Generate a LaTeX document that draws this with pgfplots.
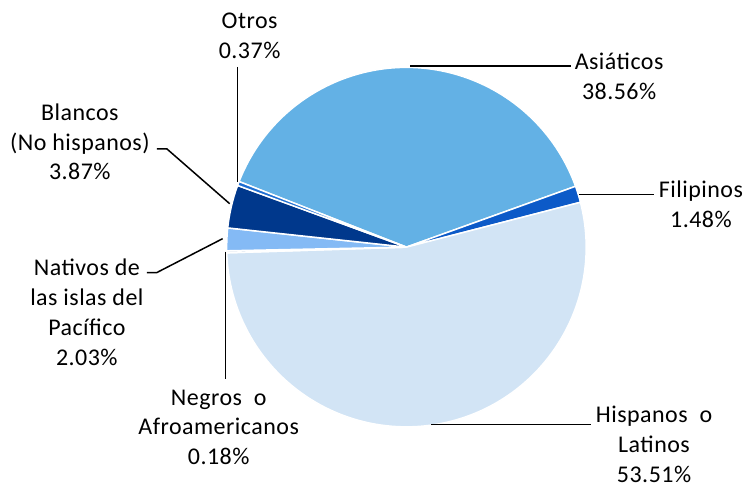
\documentclass[border=0pt]{standalone}
\usepackage{pgfplots}
\usepackage{pgfplotstable}
\pgfplotsset{compat=1.18}
\usepackage{fontspec}
\setmainfont[LetterSpace=2]{Carlito}
\definecolor{cA}{RGB}{99,177,229}
\definecolor{cF}{RGB}{12,90,200}
\definecolor{cH}{RGB}{210,228,245}
\definecolor{cN}{RGB}{190,205,225}
\definecolor{cP}{RGB}{132,186,245}
\definecolor{cB}{RGB}{0,56,140}
\definecolor{cO}{RGB}{30,110,210}
\pgfplotstableread{
name value color
Asiaticos 38.56 cA
Filipinos 1.48 cF
Hispanos 53.51 cH
Negros 0.18 cN
Nativos 2.03 cP
Blancos 3.87 cB
Otros 0.37 cO
}\piedata
\begin{document}
\begin{tikzpicture}
\begin{axis}[width=743pt,height=486pt,scale only axis,
  xmin=0,xmax=743,ymin=0,ymax=486,hide axis,clip=false]
\pgfmathsetmacro{\cum}{0}
\pgfplotsforeachungrouped \i in {0,...,6}{%
  \pgfplotstablegetelem{\i}{value}\of\piedata \let\vv\pgfplotsretval
  \pgfplotstablegetelem{\i}{color}\of\piedata \let\cc\pgfplotsretval
  \pgfmathsetmacro{\angA}{158.6-3.6*\cum}%
  \pgfmathsetmacro{\angB}{158.6-3.6*(\cum+\vv)}%
  \edef\temp{\noexpand\fill[\cc,draw=white,line width=1.5pt,line join=round] (axis cs:407,238.5) -- ++(\angA:180pt) arc[start angle=\angA,end angle=\angB,radius=180pt] -- cycle;}%
  \temp
  \pgfmathsetmacro{\cum}{\cum+\vv}%
}
\begin{scope}[line width=1.5pt,black]
\draw (axis cs:411,420) -- (axis cs:572,420);
\draw (axis cs:580,291) -- (axis cs:655,291);
\draw (axis cs:432,61) -- (axis cs:592,61);
\draw (axis cs:238,419) -- (axis cs:238,304);
\draw (axis cs:157,337) -- (axis cs:167,337) -- (axis cs:230,282);
\draw (axis cs:147,213) -- (axis cs:157,213) -- (axis cs:223,247);
\draw (axis cs:226,234) -- (axis cs:226,106);
\end{scope}
\begin{scope}[every node/.style={align=center,inner sep=0pt,font=\fontsize{24}{30}\selectfont}]
\node at (axis cs:620,410) {Asiáticos\\38.56\%};
\node at (axis cs:702,281) {Filipinos\\1.48\%};
\node at (axis cs:655,41) {Hispanos\ \ o\\Latinos\\53.51\%};
\node at (axis cs:250,450) {Otros\\0.37\%};
\node at (axis cs:80,344) {Blancos\\(No hispanos)\\3.87\%};
\node at (axis cs:87,173.5) {Nativos de\\las islas del\\Pacífico\\2.03\%};
\node at (axis cs:219,58) {Negros\ \ o\\Afroamericanos\\0.18\%};
\end{scope}
\path (axis cs:0,0) rectangle (axis cs:743,486);
\end{axis}
\end{tikzpicture}
\end{document}
